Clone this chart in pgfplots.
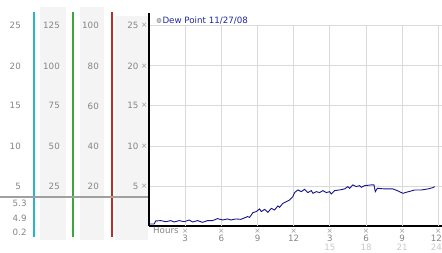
\documentclass[border=0pt]{standalone}
\usepackage{pgfplots}
\pgfplotsset{compat=1.18}
\usepackage{fontspec}
\setmainfont{DejaVu Sans}
\definecolor{txt}{HTML}{858585}
\definecolor{lt}{HTML}{C8C8C8}
\definecolor{mkc}{HTML}{9A9A9A}
\definecolor{band}{HTML}{F4F4F4}
\definecolor{navy}{HTML}{14148C}
\definecolor{legblue}{HTML}{1E28A0}
\definecolor{gridc}{HTML}{DADADA}
\definecolor{sep}{HTML}{A0A0A0}
\newcommand\fs{\fontsize{8.7}{8.7}\selectfont}
\newcommand\mk{{\fontsize{7.5}{7.5}\selectfont\textcolor{mkc}{×}}}
\newcommand\ymk{\hspace{2.5pt}\raisebox{1pt}{\mk}}
\begin{document}
\begin{tikzpicture}[x=1pt,y=1pt]
\fill[band] (40,13) rectangle (66,246);
\fill[band] (80,13) rectangle (104,246);
\fill[band] (115,13) rectangle (148,237);
\fill[fill={rgb,255:red,40;green,180;blue,210}] (33,16) rectangle (34.5,241);
\fill[fill={rgb,255:red,60;green,165;blue,60}] (72,16) rectangle (73.5,241);
\fill[fill={rgb,255:red,185;green,45;blue,45}] (111,16) rectangle (112.5,241);
\draw[sep, line width=2pt] (0,56) -- (149,56);
\foreach \v/\a/\b in {25/125/100, 20/100/80, 15/75/60, 10/50/40, 5/25/20} {
  \node[anchor=east, inner sep=0pt, txt, font=\fs] at (21, 27+\v*8.0075) {\v};
  \node[anchor=east, inner sep=0pt, txt, font=\fs] at (60, 27+\v*8.0075) {\a};
  \node[anchor=east, inner sep=0pt, txt, font=\fs] at (99, 27+\v*8.0075) {\b};
}
\node[anchor=west, inner sep=0pt, txt, font=\fs] at (12.5,49.3) {5.3};
\node[anchor=west, inner sep=0pt, txt, font=\fs] at (12.5,35) {4.9};
\node[anchor=west, inner sep=0pt, txt, font=\fs] at (12.5,21) {0.2};
\begin{axis}[
  at={(149pt,27pt)}, anchor=south west, scale only axis,
  width=293pt, height=213pt,
  xmin=0, xmax=24.3, ymin=0, ymax=26.6,
  axis x line*=bottom, axis y line*=left,
  axis line style={-, black, line width=1.6pt},
  major tick length=0pt,
  ytick={5,10,15,20,25},
  yticklabels={{5\ymk},{10\ymk},{15\ymk},{20\ymk},{25\ymk}},
  ymajorgrids, grid style={gridc, line width=0.8pt},
  xtick={3,6,9,12,15,18,21,24},
  xticklabels={{\mk\\3},{\mk\\6},{\mk\\9},{\mk\\12},{\mk\\3\\\textcolor{lt}{15}},{\mk\\6\\\textcolor{lt}{18}},{\mk\\9\\\textcolor{lt}{21}},{\mk\\\makebox[0pt][r]{12\kern-3.5pt}\\\makebox[0pt][r]{\textcolor{lt}{24}\kern-3.5pt}}},
  tick label style={txt, font=\fs},
  yticklabel style={anchor=east, inner sep=0pt, xshift=-1.5pt},
  xticklabel style={anchor=north, align=center, inner sep=0pt, yshift=-2.5pt},
  clip=false,
]
\pgfplotsinvokeforeach{3,6,9,12,15,18,21,24}{
  \draw[gridc, line width=0.8pt] (axis cs:#1,0) -- (axis cs:#1,25);
}
\addplot[navy, line width=0.9pt, mark=none] coordinates {
(0.0,0.25)(0.43,0.25)(0.56,0.63)(0.98,0.67)(1.39,0.54)(1.81,0.67)(2.09,0.5)(2.5,0.67)(2.92,0.54)(3.34,0.75)(3.61,0.5)(4.02,0.67)(4.44,0.46)(4.85,0.67)(5.27,0.67)(5.68,0.92)(6.1,0.75)(6.51,0.88)(6.79,0.75)(7.2,0.88)(7.62,0.83)(8.03,1.08)(8.17,1.17)(8.34,1.08)(8.62,1.67)(8.9,1.8)(9.17,2.13)(9.31,1.8)(9.59,2.08)(9.86,1.71)(10.14,2.2)(10.41,2.0)(10.69,2.5)(10.83,2.33)(11.1,2.83)(11.39,3.04)(11.66,3.25)(11.93,3.67)(12.07,4.17)(12.35,4.5)(12.63,4.29)(12.9,4.58)(13.18,4.17)(13.46,4.42)(13.6,4.08)(13.88,4.29)(14.15,4.17)(14.42,4.42)(14.71,4.17)(14.98,4.29)(15.12,4.0)(15.39,4.42)(15.81,4.5)(16.22,4.63)(16.5,4.92)(16.64,4.71)(16.91,5.13)(17.2,4.92)(17.47,5.04)(17.61,4.83)(17.88,5.04)(18.44,5.13)(18.66,5.13)(18.77,4.29)(18.94,4.71)(19.54,4.63)(20.23,4.63)(20.65,4.38)(21.06,4.08)(21.34,4.21)(21.76,4.38)(22.03,4.5)(22.59,4.5)(23.14,4.63)(23.55,4.79)(23.69,4.92)
};
\end{axis}
\filldraw[draw=gray!80, fill=gray!45, line width=0.5pt] (159,232.5) circle (2.2);
\node[anchor=base west, inner sep=0pt, legblue, font=\fs] at (162.3,229.7) {Dew Point 11/27/08};
\node[anchor=base west, inner sep=0pt, txt, font=\fs] at (153,19) {Hours};
\pgfresetboundingbox
\useasboundingbox (0,0) rectangle (442,253);
\end{tikzpicture}
\end{document}
